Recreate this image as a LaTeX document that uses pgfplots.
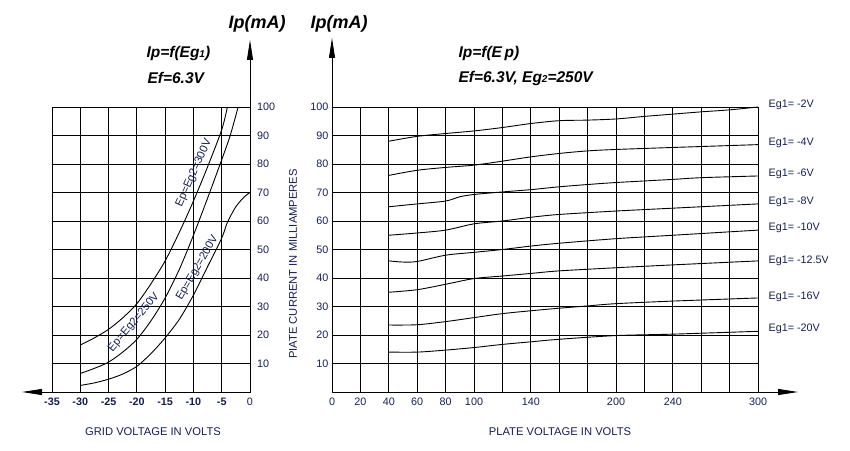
\documentclass[border=0pt]{standalone}
\usepackage{fontspec}
\setmainfont{Liberation Sans}
\usepackage{pgfplots}
\pgfplotsset{compat=1.18}
\usetikzlibrary{arrows.meta}

\definecolor{ink}{RGB}{22,30,85}

\newcommand{\ttl}{\fontsize{15.5}{18}\selectfont\bfseries\itshape}
\newcommand{\lbl}{\fontsize{11.2}{13}\selectfont\color{ink}}
\newcommand{\sm}[1]{{\fontsize{10}{12}\selectfont #1}}

\pgfplotsset{
  tubechart/.style={
    scale only axis, height=285pt, ymin=0, ymax=100,
    ytick={10,20,...,100},
    grid=major, major grid style={black, line width=0.8pt},
    axis line style={black, line width=0.8pt},
    major tick length=0pt,
    tick label style={font=\fontsize{10.8}{12}\selectfont, text=ink},
    xticklabel style={yshift=-2.5pt},
    /pgf/number format/assume math mode=true,
  },
  curve/.style={black, line width=0.9pt, smooth, no marks},
}

\begin{document}
\begin{tikzpicture}
\path[use as bounding box] (0,0) rectangle (850pt,450pt);

% Ip = f(Eg1)
\begin{axis}[tubechart, at={(52pt,58pt)}, anchor=south west, width=198pt,
  xmin=-35, xmax=0, xtick={-35,-30,...,0},
  xticklabels={\textbf{-35},\textbf{-30},\textbf{-25},\textbf{-20},\textbf{-15},\textbf{-10},\textbf{-5},0},
  yticklabel pos=right, yticklabel style={xshift=3.5pt}]
% Ep=Eg2=300V
\addplot[curve] coordinates {(-30,16.5) (-27.5,19) (-25,22) (-22.5,26) (-20,31) (-17.5,38)
  (-15,46) (-12.5,56) (-10,67) (-7.5,79) (-5,92) (-4,100)};
% Ep=Eg2=250V
\addplot[curve] coordinates {(-30,6.5) (-27.5,8.3) (-25,10.5) (-22.5,14) (-20,18.5) (-17.5,25)
  (-15,33) (-12.5,43) (-10,55) (-7.5,68) (-5,81.5) (-3.5,90) (-2.1,100)};
% Ep=Eg2=200V
\addplot[curve] coordinates {(-30,2.3) (-27.5,3.2) (-25,4.5) (-22.5,6.3) (-20,9) (-17.5,13.5)
  (-15,19) (-12.5,25.5) (-10,34) (-7.5,44) (-5,54) (-4,59.5) (-2.5,65) (-1,68.5) (0,70)};
\end{axis}

% Ip = f(Ep)
\begin{axis}[tubechart, at={(332pt,58pt)}, anchor=south west, width=426pt,
  xmin=0, xmax=300, xtick={0,20,...,300},
  xticklabels={0,20,40,60,80,100,{},140,{},{},200,{},240,{},{},300}]
\addplot[curve] coordinates {(40,88) (60,89.7) (80,90.7) (100,91.6) (120,92.8) (140,94.2)
  (160,95.2) (180,95.4) (200,95.8) (220,96.7) (240,97.5) (260,98.3) (280,99) (300,100)};
\addplot[curve] coordinates {(40,76) (60,77.8) (80,78.8) (100,79.6) (120,81) (140,82.5)
  (160,83.7) (180,84.6) (200,85.1) (240,85.8) (270,86.3) (300,86.8)};
\addplot[curve] coordinates {(40,65) (60,66) (80,67) (90,68.5) (100,69.3) (120,70.2) (140,71)
  (160,72) (180,72.8) (200,73.5) (240,74.6) (260,75.2) (300,75.8)};
\addplot[curve] coordinates {(40,55) (60,55.8) (80,56.8) (100,59) (120,60) (140,61.3)
  (160,62.3) (200,63.5) (240,64.5) (300,66)};
\addplot[curve] coordinates {(40,46) (50,45.6) (60,45.8) (80,48) (100,49) (120,50) (140,51.2)
  (160,52.2) (200,53.8) (240,55) (300,56.8)};
\addplot[curve] coordinates {(40,35) (60,35.9) (80,37.8) (100,39.8) (120,40.7) (140,41.6)
  (160,42.5) (200,43.6) (240,44.6) (300,46)};
\addplot[curve] coordinates {(40,23.5) (60,23.6) (80,24.7) (100,26.1) (120,27.5) (140,28.5)
  (160,29.4) (180,30.2) (200,31) (240,31.9) (300,33)};
\addplot[curve] coordinates {(40,14) (60,14) (80,14.7) (100,15.6) (120,16.7) (140,17.6)
  (160,18.5) (200,19.8) (240,20.3) (300,21.3)};
\end{axis}

% axis arrows
\draw[line width=0.8pt, -{Triangle[length=20pt,width=6pt]}] (250pt,58pt) -- (250pt,410pt);
\draw[line width=0.8pt, -{Triangle[length=20pt,width=6pt]}] (250pt,58pt) -- (22pt,58pt);
\draw[line width=0.8pt, -{Triangle[length=20pt,width=6pt]}] (332pt,58pt) -- (332pt,412pt);
\draw[line width=0.8pt, -{Triangle[length=20pt,width=6pt]}] (332pt,58pt) -- (798pt,58pt);

% titles
\node[font=\fontsize{18}{20}\selectfont\bfseries\itshape] at (257pt,426pt) {Ip(mA)};
\node[font=\fontsize{18}{20}\selectfont\bfseries\itshape] at (339pt,426pt) {Ip(mA)};
\node[anchor=west, font=\ttl] at (143pt,397pt) {Ip=f(Eg\sm{1})};
\node[anchor=west, font=\ttl] at (144pt,372pt) {Ef=6.3V};
\node[anchor=west, font=\ttl] at (455pt,397pt) {Ip=f(E\,p)};
\node[anchor=west, font=\ttl] at (455pt,372pt) {Ef=6.3V, Eg\sm{2}=250V};

% axis labels
\node[font=\lbl] at (153pt,18pt) {GRID VOLTAGE IN VOLTS};
\node[font=\lbl] at (560pt,18pt) {PLATE VOLTAGE IN VOLTS};
\node[font=\lbl, rotate=90] at (293pt,186pt) {PIATE CURRENT IN MILLIAMPERES};

% curve labels
\node[font=\lbl, rotate=66] at (194pt,277pt) {Ep=Eg2=300V};
\node[font=\lbl, rotate=50] at (134pt,127.5pt) {Ep=Eg2=250V};
\node[font=\lbl, rotate=60] at (197.5pt,182pt) {Ep=Eg2=200V};

\begin{scope}[every node/.style={anchor=west, font=\fontsize{10.8}{12}\selectfont\color{ink}}]
\node at (765pt,345pt) {Eg1= -2V};
\node at (765pt,307pt) {Eg1= -4V};
\node at (765pt,276pt) {Eg1= -6V};
\node at (765pt,248pt) {Eg1= -8V};
\node at (765pt,222pt) {Eg1= -10V};
\begin{scope}
\clip (760pt,170pt) rectangle (827pt,210pt);
\node at (765pt,189pt) {Eg1= -12.5V};
\end{scope}
\node at (765pt,153pt) {Eg1= -16V};
\node at (765pt,121pt) {Eg1= -20V};
\end{scope}
\end{tikzpicture}
\end{document}
